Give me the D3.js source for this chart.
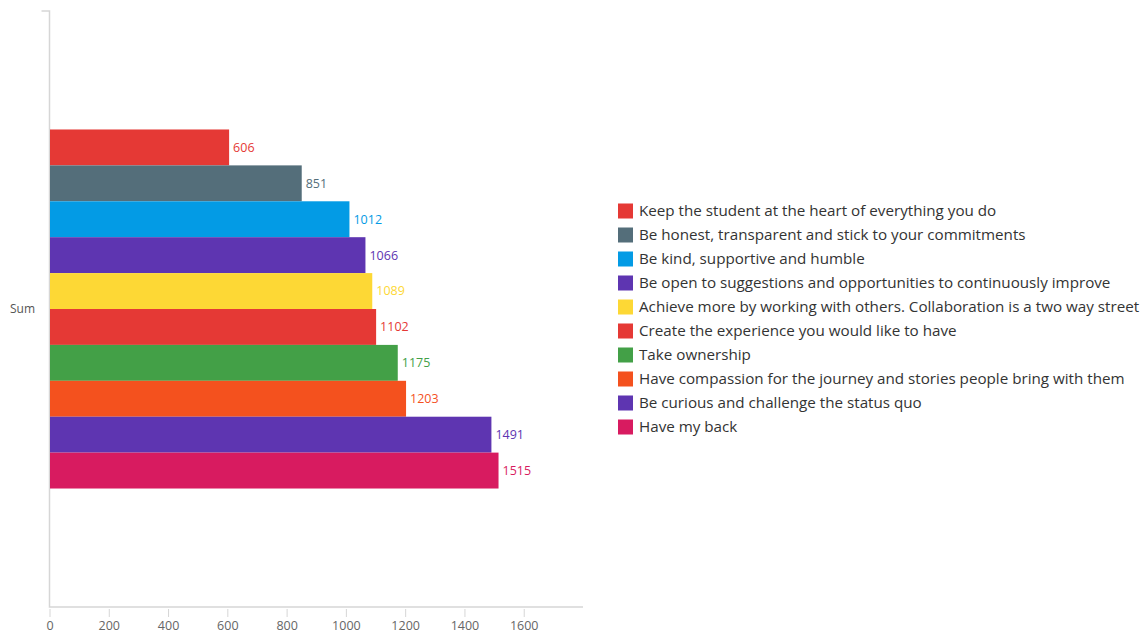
<!DOCTYPE html>
<html><head><meta charset="utf-8">
<script src="https://cdn.jsdelivr.net/npm/d3@7"></script>
<style>body{margin:0;background:#fff;} svg{display:block;font-family:"Open Sans", Lato, sans-serif;}</style>
</head><body><svg id="c" width="1148" height="633"></svg>
<script>
const categories = ["Keep the student at the heart of everything you do","Be honest, transparent and stick to your commitments","Be kind, supportive and humble","Be open to suggestions and opportunities to continuously improve","Achieve more by working with others. Collaboration is a two way street","Create the experience you would like to have","Take ownership","Have compassion for the journey and stories people bring with them","Be curious and challenge the status quo","Have my back"];
const values = [606, 851, 1012, 1066, 1089, 1102, 1175, 1203, 1491, 1515];
const colors = ["#e53935","#546e7a","#039be5","#5e35b1","#fdd835","#e53935","#43a047","#f4511e","#5e35b1","#d81b60"];
const groups = ["Sum"];
const xTicks = [0,200,400,600,800,1000,1200,1400,1600];

(function(){
const svg = d3.select("#c");
const mL = 49.5, mR = 583, mT = 11, mB = 607;
const x = d3.scaleLinear().domain([0,1800]).range([mL, mR]);
const yG = d3.scaleBand().domain(groups).range([mT, mB]).paddingInner(0).paddingOuter(0.33);
const yS = d3.scaleBand().domain(categories).range([0, yG.bandwidth()]);

svg.append("path").attr("d", `M${mL-8},${mT}H${mL}V${mB}H${mR}`)
  .attr("fill","none").attr("stroke","#d6d6d6").attr("stroke-width",1.5);
const xa = svg.append("g").attr("transform",`translate(0,${mB+2})`)
  .call(d3.axisBottom(x).tickValues(xTicks).tickFormat(d3.format("d")).tickSize(8).tickSizeOuter(0).tickPadding(4));
xa.select(".domain").remove();
xa.selectAll("line").attr("stroke","#d6d6d6");
xa.selectAll("text").attr("fill","#666").style("font-size","12.5px").style("font-family","'Open Sans', sans-serif");

svg.append("text").attr("x",10).attr("y",yG("Sum")+yG.bandwidth()/2).attr("dy","0.35em")
  .attr("fill","#555").style("font-size","12px").text("Sum");

const g = svg.append("g").attr("transform",`translate(0,${yG("Sum")})`);
g.selectAll("rect").data(values).join("rect")
  .attr("x", x(0)+0.5).attr("y",(d,i)=>yS(categories[i]))
  .attr("width", d=>x(d)-x(0)-0.5).attr("height", yS.bandwidth())
  .attr("fill",(d,i)=>colors[i]);
g.selectAll("text.v").data(values).join("text").attr("class","v")
  .attr("x", d=>x(d)+4).attr("y",(d,i)=>yS(categories[i])+yS.bandwidth()/2).attr("dy","0.35em")
  .attr("fill",(d,i)=>colors[i]).style("font-size","12.5px").text(d=>d);

const lg = svg.append("g").attr("transform","translate(618,211)");
const row = lg.selectAll("g").data(categories).join("g").attr("transform",(d,i)=>`translate(0,${i*24})`);
row.append("rect").attr("x",0).attr("y",-7.5).attr("width",15).attr("height",15).attr("fill",(d,i)=>colors[i]);
row.append("text").attr("x",21).attr("dy","0.35em").attr("fill","#333").style("font-size","15.2px").text(d=>d);
})();
</script></body></html>
